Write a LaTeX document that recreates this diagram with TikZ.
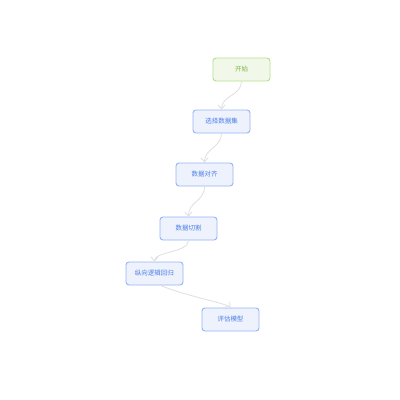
\documentclass[tikz,border=0pt]{standalone}
\usepackage{fontspec}
\newfontfamily\cjk{Noto Sans CJK SC}
\usetikzlibrary{arrows.meta}
\definecolor{gborder}{HTML}{B4E08C}
\definecolor{gfill}{HTML}{F1F8EA}
\definecolor{gtext}{HTML}{7DB84E}
\definecolor{bborder}{HTML}{96B4F5}
\definecolor{bfill}{HTML}{EDF2FD}
\definecolor{btext}{HTML}{4F7FE6}
\definecolor{edgec}{HTML}{DEDEDE}
\tikzset{
  stepbox/.style={draw=bborder, fill=bfill, text=btext, line width=0.9pt, rounded corners=3pt,
    minimum width=57pt, minimum height=23pt, inner sep=0pt, font=\cjk\fontsize{6.5}{7}\selectfont},
  startbox/.style={stepbox, draw=gborder, fill=gfill, text=gtext},
  conn/.style={draw=edgec, line width=0.8pt, -{Straight Barb[length=4pt,width=7pt]}}
}
\begin{document}
\begin{tikzpicture}[x=1pt,y=-1pt]
\useasboundingbox (0,0) rectangle (400,400);
\node[startbox] (s) at (241.5,69.5) {开始};
\node[stepbox] (n1) at (221.5,121.5) {选择数据集};
\node[stepbox] (n2) at (204.5,174.5) {数据对齐};
\node[stepbox] (n3) at (188.5,228.5) {数据切割};
\node[stepbox] (n4) at (154.5,273.5) {纵向逻辑回归};
\node[stepbox] (n5) at (230.5,319.5) {评估模型};
\draw[conn] (s.south) .. controls +(0,14) and +(0,-14) .. (n1.north);
\draw[conn] (n1.south) .. controls +(0,14) and +(0,-14) .. (n2.north);
\draw[conn] (n2.south) .. controls +(0,15) and +(0,-15) .. (n3.north);
\draw[conn] (n3.south) .. controls +(0,12) and +(0,-10) .. (n4.north);
\draw[conn] ([xshift=6pt]n4.south) .. controls +(24,10) and +(-4,-4) .. (n5.north);
\end{tikzpicture}
\end{document}
